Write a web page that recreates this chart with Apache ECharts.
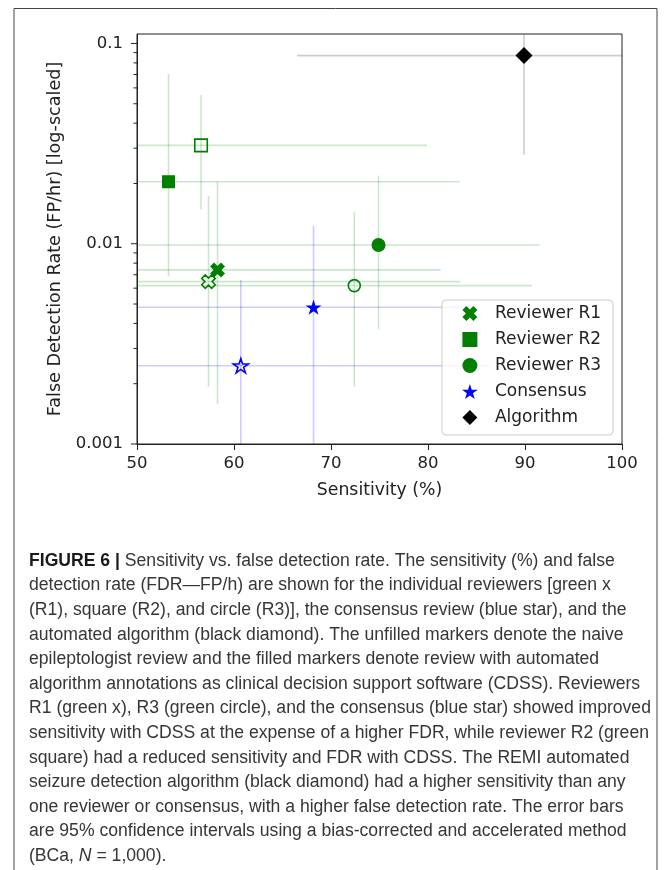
<!DOCTYPE html>
<html><head><meta charset="utf-8">
<script src="https://cdn.jsdelivr.net/npm/echarts@6/dist/echarts.min.js"></script>
<style>html,body{margin:0;padding:0;background:#fff}#c{width:669px;height:870px}</style>
</head><body><div id="c"></div>
<script>
// ---------------- data ----------------
const groups = ['Reviewer R1', 'Reviewer R2', 'Reviewer R3', 'Consensus', 'Algorithm'];
// with CDSS (filled markers)
const sensCDSS   = [58.3, 53.25, 74.9, 68.2, 89.9];
const fdrCDSS    = [0.0074, 0.0204, 0.00986, 0.00482, 0.0870];
const sensLoCDSS = [44, 42, 46, 40, 66.5];
const sensHiCDSS = [81.3, 83.3, 91.5, 85, 106];
const fdrLoCDSS  = [0.00158, 0.00686, 0.00374, 0.0007, 0.0278];
const fdrHiCDSS  = [0.0204, 0.0703, 0.0219, 0.01228, 0.2];
// naive review (unfilled markers)
const sensNaive   = [57.37, 56.6, 72.4, 60.7, null];
const fdrNaive    = [0.00647, 0.0310, 0.00618, 0.00246, null];
const sensLoNaive = [45, 43, 47, 42, null];
const sensHiNaive = [83.3, 79.9, 90.7, 86.4, null];
const fdrLoNaive  = [0.00193, 0.01486, 0.00193, 0.0007, null];
const fdrHiNaive  = [0.01734, 0.0553, 0.01436, 0.0066, null];
// axes
const xTicks = [50, 60, 70, 80, 90, 100];
const yTickValues = [0.001, 0.01, 0.1];
const yTickLabels = ['0.001', '0.01', '0.1'];
const yMax = 0.1115;
const captionLines = [
  'FIGURE 6 | Sensitivity vs. false detection rate. The sensitivity (%) and false',
  'detection rate (FDR\u2014FP/h) are shown for the individual reviewers [green x',
  '(R1), square (R2), and circle (R3)], the consensus review (blue star), and the',
  'automated algorithm (black diamond). The unfilled markers denote the naive',
  'epileptologist review and the filled markers denote review with automated',
  'algorithm annotations as clinical decision support software (CDSS). Reviewers',
  'R1 (green x), R3 (green circle), and the consensus (blue star) showed improved',
  'sensitivity with CDSS at the expense of a higher FDR, while reviewer R2 (green',
  'square) had a reduced sensitivity and FDR with CDSS. The REMI automated',
  'seizure detection algorithm (black diamond) had a higher sensitivity than any',
  'one reviewer or consensus, with a higher false detection rate. The error bars',
  'are 95% confidence intervals using a bias-corrected and accelerated method',
  '(BCa, N = 1,000).'
];

// ---------------- styles ----------------
const colors = ['#008000', '#008000', '#008000', '#0000ff', '#000000'];
const ciColors = ['rgba(0,128,0,0.2)', 'rgba(0,128,0,0.2)', 'rgba(0,128,0,0.2)', 'rgba(0,0,255,0.2)', 'rgba(0,0,0,0.2)'];
function starPath() {
  const pts = [];
  for (let i = 0; i < 10; i++) {
    const r = i % 2 === 0 ? 1 : 0.382;
    const a = -Math.PI / 2 + i * Math.PI / 5;
    pts.push([r * Math.cos(a), r * Math.sin(a)]);
  }
  return 'path://M' + pts.map(p => p[0].toFixed(4) + ',' + p[1].toFixed(4)).join('L') + 'Z';
}
function xPath() {
  const w = 0.36;
  const base = [[-w,-1],[w,-1],[w,-w],[1,-w],[1,w],[w,w],[w,1],[-w,1],[-w,w],[-1,w],[-1,-w],[-w,-w]];
  const c = Math.cos(Math.PI / 4), s = Math.sin(Math.PI / 4);
  const pts = base.map(p => [p[0] * c - p[1] * s, p[0] * s + p[1] * c]);
  return 'path://M' + pts.map(p => p[0].toFixed(4) + ',' + p[1].toFixed(4)).join('L') + 'Z';
}
const squarePath = 'path://M-1,-1L1,-1L1,1L-1,1Z';
const diamondPath = 'path://M0,-1L1,0L0,1L-1,0Z';
const symbols = [xPath(), 'rect', 'circle', starPath(), 'diamond'];
const legendIcons = [xPath(), squarePath, 'circle', starPath(), diamondPath];
const sizes = [15, 13, 14, 16, 17];
const openSizes = [13.5, 12.5, 12, 15, 17];

const L = Math.log10;
const series = [];
// error bars
groups.forEach((g, i) => {
  const data = [[sensLoCDSS[i], sensHiCDSS[i], L(fdrLoCDSS[i]), L(fdrHiCDSS[i]), sensCDSS[i], L(fdrCDSS[i])]];
  if (sensNaive[i] != null) {
    data.unshift([sensLoNaive[i], sensHiNaive[i], L(fdrLoNaive[i]), L(fdrHiNaive[i]), sensNaive[i], L(fdrNaive[i])]);
  }
  series.push({
    type: 'custom', name: g + ' CI', clip: true, z: 1, silent: true,
    data: data,
    renderItem: function (params, api) {
      const y = api.value(5), x = api.value(4);
      const a = api.coord([api.value(0), y]), b = api.coord([api.value(1), y]);
      const c = api.coord([x, api.value(2)]), d = api.coord([x, api.value(3)]);
      const st = { stroke: ciColors[i], lineWidth: 1.6 };
      return { type: 'group', children: [
        { type: 'line', shape: { x1: a[0], y1: a[1], x2: b[0], y2: b[1] }, style: st },
        { type: 'line', shape: { x1: c[0], y1: c[1], x2: d[0], y2: d[1] }, style: st }
      ]};
    }
  });
});
// markers
groups.forEach((g, i) => {
  const data = [];
  if (sensNaive[i] != null) {
    data.push({ value: [sensNaive[i], L(fdrNaive[i])], symbolSize: openSizes[i],
      itemStyle: { color: 'rgba(255,255,255,0)', borderColor: colors[i], borderWidth: 1.6 } });
  }
  data.push({ value: [sensCDSS[i], L(fdrCDSS[i])] });
  series.push({
    type: 'scatter', name: g, z: 5, symbol: symbols[i], symbolSize: sizes[i], symbolKeepAspect: true,
    itemStyle: { color: colors[i], opacity: 1 }, data: data, silent: true
  });
});
// minor/major y ticks (log axis)
const yTickData = [];
for (let e = -3; e <= -1; e++) {
  for (let k = 1; k <= 9; k++) {
    const v = k * Math.pow(10, e);
    if (v > yMax) break;
    yTickData.push([50, L(v), k === 1 ? 6 : 3.5]);
  }
}
series.push({
  type: 'custom', name: 'yticks', clip: false, z: 6, silent: true, data: yTickData,
  renderItem: function (params, api) {
    const p = api.coord([api.value(0), api.value(1)]);
    const len = api.value(2);
    return { type: 'line', shape: { x1: p[0] - len, y1: p[1], x2: p[0], y2: p[1] },
      style: { stroke: '#222', lineWidth: 1 } };
  }
});

const font = 'DejaVu Sans';
const capFont = 'Liberation Sans';
const capSize = 17.6;
const capGraphics = captionLines.map((t, i) => {
  let text = t, rich = {};
  if (i === 0) { text = '{b|FIGURE 6 |}' + t.slice('FIGURE 6 |'.length); rich = { b: { fontWeight: 'bold', fill: '#1a1a1a', fontSize: capSize, fontFamily: capFont } }; }
  if (t.indexOf('N = ') >= 0) { text = t.replace('N', '{i|N}'); rich = { i: { fontStyle: 'italic', fill: '#333', fontSize: capSize, fontFamily: capFont } }; }
  return { type: 'text', left: 29, top: 552 + i * 24.6,
    style: { text: text, rich: rich, fill: '#363636', fontSize: capSize, fontFamily: capFont } };
});

const option = {
  animation: false,
  backgroundColor: '#fff',
  grid: { left: 137, right: 47, top: 34, bottom: 426, show: true, borderColor: '#222', borderWidth: 1, backgroundColor: 'transparent' },
  xAxis: {
    type: 'value', min: xTicks[0], max: xTicks[xTicks.length - 1], interval: 10,
    name: 'Sensitivity (%)', nameLocation: 'middle', nameGap: 38,
    nameTextStyle: { fontFamily: font, fontSize: 17.3, color: '#222' },
    axisLine: { show: true, lineStyle: { color: '#222', width: 1 } },
    axisTick: { show: true, length: 6, lineStyle: { color: '#222' } },
    axisLabel: { fontFamily: font, fontSize: 16.5, color: '#222', margin: 11 },
    splitLine: { show: false }
  },
  yAxis: {
    type: 'value', min: L(yTickValues[0]), max: L(yMax), interval: 1,
    name: 'False Detection Rate (FP/hr) [log-scaled]', nameLocation: 'middle', nameGap: 68,
    nameTextStyle: { fontFamily: font, fontSize: 17.6, color: '#222' },
    axisLine: { show: true, lineStyle: { color: '#222', width: 1 } },
    axisTick: { show: false },
    axisLabel: { fontFamily: font, fontSize: 16.5, color: '#222', margin: 14, showMaxLabel: false,
      formatter: function (v) {
        const idx = yTickValues.findIndex(t => Math.abs(L(t) - v) < 1e-9);
        return idx >= 0 ? yTickLabels[idx] : '';
      } },
    splitLine: { show: false }
  },
  legend: {
    orient: 'vertical', left: 442, top: 300, padding: [5, 12, 9, 20],
    itemWidth: 40, itemHeight: 15, itemGap: 9, selectedMode: false,
    backgroundColor: 'rgba(255,255,255,0.8)', borderColor: '#cccccc', borderWidth: 1, borderRadius: 4,
    textStyle: { fontFamily: font, fontSize: 17, color: '#222' },
    data: groups.map((g, i) => ({ name: g, icon: legendIcons[i] }))
  },
  graphic: [
    { type: 'polyline', shape: { points: [[14, 872], [14, 8.5], [657, 8.5], [657, 872]] },
      style: { stroke: '#444', lineWidth: 1, fill: null } }
  ].concat(capGraphics),
  series: series
};
const chart = echarts.init(document.getElementById('c'));
chart.setOption(option);
</script>
</body></html>
